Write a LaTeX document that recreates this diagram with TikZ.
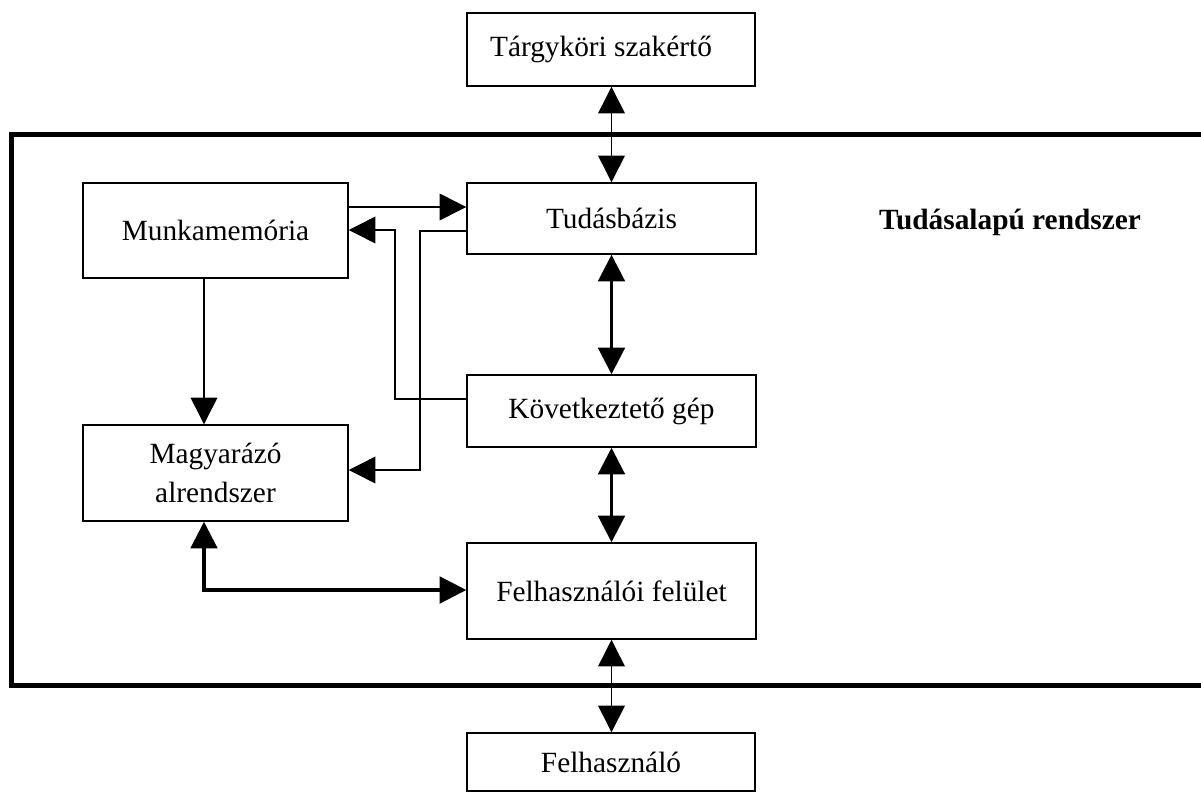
\documentclass[tikz,border=0pt]{standalone}
\usepackage{fontspec}
\setmainfont{Liberation Serif}
\usetikzlibrary{arrows.meta}
\begin{document}
\begin{tikzpicture}[x=0.75pt,y=-0.75pt,
  boxnode/.style={draw,line width=1.1pt,rectangle,inner sep=0pt,align=center,
    font=\fontsize{22}{29}\selectfont},
  tip/.style={-{Triangle[length=20pt,width=20pt]}},
  tips/.style={{Triangle[length=20pt,width=20pt]}-{Triangle[length=20pt,width=20pt]}},
  thinline/.style={line width=1.1pt},
  thickline/.style={line width=2.3pt},
  frameline/.style={line width=4.2pt}]
\useasboundingbox (0,0) rectangle (1201,800);
\fill[white] (0,0) rectangle (1201,800);
% frame
\draw[frameline] (1230,134.5) -- (11.5,134.5) -- (11.5,685.5) -- (1230,685.5);
\node (label) at (1010,222) {\fontsize{22}{26}\selectfont\bfseries Tudásalapú rendszer};
% boxes
\node[boxnode,minimum width=216pt,minimum height=54.75pt] (targy) at (611,49.5) {Tárgyköri szakértő\hspace*{15pt}};
\node[boxnode,minimum width=216.75pt,minimum height=53.25pt] (tudas) at (611.5,218.5) {Tudásbázis};
\node[boxnode,minimum width=216.75pt,minimum height=54pt] (kov) at (611.5,411) {Következtető gép};
\node[boxnode,minimum width=216.75pt,minimum height=72pt] (felul) at (611.5,591) {Felhasználói felület};
\node[boxnode,minimum width=216pt,minimum height=43.5pt] (felh) at (611,762) {Felhasználó};
\node[boxnode,minimum width=198.75pt,minimum height=71.25pt] (munka) at (215.5,230.5) {Munkamemória};
\node[boxnode,minimum width=198.75pt,minimum height=72pt] (magy) at (215.5,473) {Magyarázó\\alrendszer};
% connectors
\draw[thinline,tips] (targy.south -| 611.5,0) -- (tudas.north -| 611.5,0);
\draw[thickline,tips] (tudas.south) -- (kov.north);
\draw[thickline,tips] (kov.south) -- (felul.north);
\draw[thinline,tips] (felul.south -| 611.5,0) -- (felh.north -| 611.5,0);
\draw[thinline,tip] (munka.east |- 0,207) -- (tudas.west |- 0,207);
\draw[thinline,tip] (kov.west |- 0,399) -| (395,230) -- (munka.east |- 0,230);
\draw[thinline,tip] (tudas.west |- 0,231) -| (420,470) -- (magy.east |- 0,470);
\draw[thinline,tip] (munka.south -| 204,0) -- (magy.north -| 204,0);
\draw[thickline,tips] (magy.south -| 204,0) |- (felul.west |- 0,590);
\end{tikzpicture}
\end{document}
